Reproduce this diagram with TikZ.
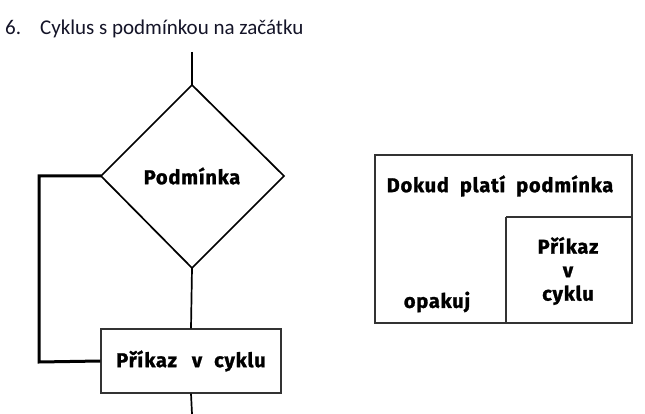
\documentclass[tikz,border=0pt]{standalone}
\usepackage{fontspec}
\setmainfont{Carlito}
\newfontfamily\labelfont[BoldFeatures={FakeBold=1.3}, LetterSpace=4]{Fira Sans}
\usetikzlibrary{shapes.geometric}
\begin{document}
\begin{tikzpicture}[x=1pt,y=-1pt,
  lbl/.style={font=\labelfont\bfseries\fontsize{20}{23}\selectfont, text=black},
  flow/.style={draw=black, line width=1.7pt},
  loopline/.style={draw=black, line width=3pt},
  boxline/.style={draw=black!80, line width=1.3pt}]
\useasboundingbox (0,0) rectangle (645,414);
\fill[white] (0,0) rectangle (645,414);
% title
\node[anchor=base west, font=\fontsize{21}{25}\selectfont, text={rgb,255:red,20;green,20;blue,40}, inner sep=0] (title) at (5,35) {6.\hspace{19pt}Cyklus s podmínkou na začátku};
% flowchart
\coordinate (start) at (192,52);
\coordinate (dtop) at (192,85);
\coordinate (dleft) at (101,176);
\coordinate (dright) at (284,176);
\coordinate (dbot) at (192,268);
\node[lbl] (cond) at (192,176) {Podmínka};
\draw[flow] (dtop) -- (dright) -- (dbot) -- (dleft) -- cycle;
\draw[flow] (start) -- (dtop);
\node[boxline, minimum width=180, minimum height=64, inner sep=0, lbl] (body) at (191,361) {Příkaz\hspace{15pt}v\hspace{12pt}cyklu};
\draw[flow] (dbot) -- (body.north);
\coordinate (end) at (192,414);
\draw[flow] (body.south) -- (end);
\coordinate (lc1) at (39,176);
\coordinate (lc2) at (39,362);
\draw[loopline, line join=miter] (dleft) -- (lc1) -- (lc2) -- (body.west);
% structogram
\coordinate (o1) at (375,155);
\coordinate (o2) at (632,323);
\draw[boxline] (o1) rectangle (o2);
\coordinate (i1) at (506,217);
\draw[boxline] (i1) |- (632,217);
\draw[boxline] (i1) -- (506,323);
\node[lbl] (while) at (500,186) {Dokud\hspace{11pt}platí\hspace{11pt}podmínka};
\node[lbl] (rep) at (437,302) {opakuj};
\node[lbl, align=center, font=\labelfont\bfseries\fontsize{20}{23.5}\selectfont] (inner) at (568,271) {Příkaz\\v\\cyklu};
\end{tikzpicture}
\end{document}
